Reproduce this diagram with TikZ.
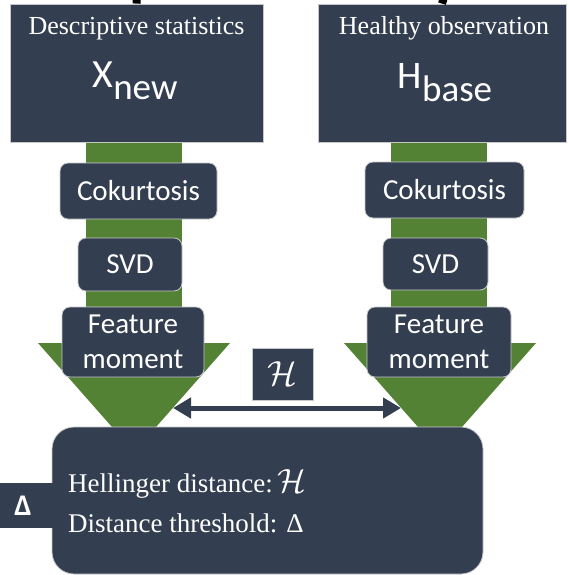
\documentclass[tikz,border=0pt]{standalone}
\usepackage{fontspec}
\setmainfont{Liberation Serif}
\setsansfont{Carlito}
\usetikzlibrary{arrows.meta}
\definecolor{navy}{HTML}{333F50}
\definecolor{leaf}{HTML}{548235}

\begin{document}
\begin{tikzpicture}[x = 1pt, y = -1pt,
    box/.style = {draw = black!22, line width = 0.8pt, fill = navy, text = white, inner sep = 0pt},
    op/.style  = {box, rounded corners = 8pt, align = center,
                  font = \sffamily\fontsize{29}{36}\selectfont},
    lbl/.style = {text = white, anchor = base, inner sep = 0pt}]
  \useasboundingbox (0,0) rectangle (568,575);

  % green flow behind the steps
  \fill[leaf] ( 86,142) rectangle (182,343);
  \fill[leaf] (391,142) rectangle (487,343);
  \fill[leaf] ( 38,343) -- (230,343) -- (134,452) -- cycle;
  \fill[leaf] (344,343) -- (536,343) -- (440,452) -- cycle;

  % inputs
  \node[box, minimum width = 253pt, minimum height = 138pt] at (136.5, 73) (xnew) {};
  \node[box, minimum width = 248pt, minimum height = 138pt] at (442,   73) (hbase) {};
  \node[lbl, font = \fontsize{26}{30}\selectfont] at (136.5, 35) (xnewtxt) {Descriptive statistics};
  \node[lbl, font = \sffamily\fontsize{40}{44}\selectfont] at (135, 88) (xnewsym) {X\raisebox{-12pt}{\fontsize{37}{40}\selectfont new}};
  \node[lbl, font = \fontsize{26}{30}\selectfont] at (444, 35) (hbasetxt) {Healthy observation};
  \node[lbl, font = \sffamily\fontsize{39}{44}\selectfont] at (445, 89) (hbasesym) {H\raisebox{-13pt}{\fontsize{37}{40}\selectfont base}};

  \coordinate (inx) at (137,-6);
  \coordinate (inh) at (445,-6);
  \draw[line width = 8pt] (inx) -- (xnew.north);
  \draw[line width = 8pt] (inh) -- (hbase.north);

  % steps, left
  \node[op, minimum width = 157pt, minimum height = 56pt] at (138.5, 191) (cokl) {Cokurtosis};
  \node[op, minimum width = 104pt, minimum height = 53pt] at (130, 264.5) (svdl) {SVD};
  \node[op, minimum width = 142pt, minimum height = 70pt] at (133, 342)   (feal) {Feature\\[-1pt]moment};

  % steps, right
  \node[op, minimum width = 159pt, minimum height = 56pt] at (444.5, 190) (cokr) {Cokurtosis};
  \node[op, minimum width = 105pt, minimum height = 52pt] at (435.5, 264) (svdr) {SVD};
  \node[op, minimum width = 144pt, minimum height = 70pt] at (439, 342)   (fear) {Feature\\[-1pt]moment};

  % distance
  \node[box, minimum width = 61pt, minimum height = 52pt, font = \fontsize{24}{28}\selectfont]
        at (282.5, 374) (hel) {\scalebox{1.4}{$\mathcal{H}$}};
  \coordinate (tipl) at (173,408);
  \coordinate (tipr) at (401,408);
  \draw[navy, line width = 5pt, {Triangle[length = 18pt, width = 20pt]}-{Triangle[length = 18pt, width = 20pt]}]
        (tipl) -- (tipr);

  % result
  \node[box, rounded corners = 22pt, minimum width = 431pt, minimum height = 147pt] at (267.5, 500.5) (res) {};
  \fill[navy] (-10,483) rectangle (56,528);
  \node[text = white, inner sep = 0pt, font = \sffamily\bfseries\fontsize{30}{34}\selectfont] at (23,506) (thr) {Δ};
  \node[text = white, anchor = base west, inner sep = 0pt, font = \fontsize{27}{32}\selectfont]
        at (68,492) (hdist) {Hellinger distance:\,\scalebox{1.35}{$\mathcal{H}$}};
  \node[text = white, anchor = base west, inner sep = 0pt, font = \fontsize{27}{32}\selectfont]
        at (68,532) (dthr) {Distance threshold: Δ};
\end{tikzpicture}
\end{document}
